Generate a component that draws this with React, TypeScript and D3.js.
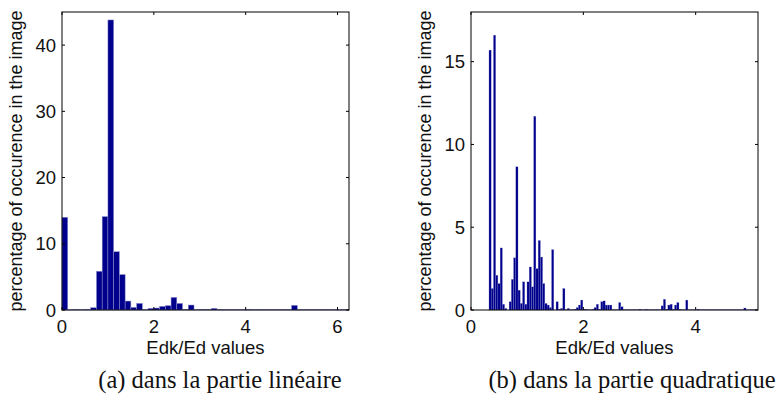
import React from "react";
import * as d3 from "d3";

// Left histogram: bin width 0.125 starting at 0
const leftBinStart = 0;
const leftBinWidth = 0.125;
const leftValues = [
  14.0, 0.05, 0.1, 0.05, 0.1, 0.35, 5.85, 14.1, 43.8, 8.8,
  5.35, 1.35, 0.4, 1.0, 0.05, 0.25, 0.3, 0.55, 0.65, 1.9,
  1.0, 0.1, 0.75, 0.05, 0.1, 0.1, 0.25, 0.1, 0.05, 0.05,
  0.05, 0.05, 0.1, 0.05, 0.05, 0.05, 0.05, 0.05, 0.05, 0.05,
  0.7, 0.05, 0.05, 0.05, 0.05, 0.05, 0.05, 0.05, 0.05, 0.05,
];
const leftXTicks = [0, 2, 4, 6];
const leftYTicks = [0, 10, 20, 30, 40];

// Right histogram: bin width 0.0398 starting at 0.32
const rightBinStart = 0.32;
const rightBinWidth = 0.0398;
const rightValues = [
  15.7, 1.3, 16.6, 2.1, 1.6, 3.75, 0.35, 0.1, 0, 0.5,
  1.85, 3.15, 8.65, 1.2, 0.4, 1.7, 0.35, 1.7, 2.6, 1.4,
  11.7, 2.5, 4.2, 3.2, 1.6, 0.4, 0.3, 0.15, 3.65, 0,
  0.5, 0.05, 0.1, 1.3, 0.02, 0.1, 0.02, 0.02, 0.05, 0.15,
  0.3, 0.6, 0.05, 0.05, 0.02, 0.02, 0.05, 0.15, 0.35, 0.05,
  0.5, 0.55, 0.3, 0.3, 0.3, 0.02, 0.02, 0.02, 0.45, 0.2,
  0.02, 0.02, 0.02, 0.02, 0.02, 0.02, 0.02, 0.05, 0.02, 0.02,
  0.05, 0.02, 0.02, 0.02, 0.02, 0.02, 0.02, 0.25, 0.65, 0.05,
  0.3, 0.35, 0.05, 0.3, 0.45, 0.05, 0.02, 0.02, 0.6, 0.02,
  0.02, 0.02, 0.02, 0.05, 0.02, 0.02, 0.02, 0.02, 0.02, 0.02,
  0.02, 0.02, 0.02, 0.02, 0.02, 0.02, 0.02, 0.02, 0.02, 0.02,
  0.02, 0.02, 0.02, 0.02, 0.12, 0.02, 0.02, 0.02, 0.02, 0.02,
];
const rightXTicks = [0, 2, 4];
const rightYTicks = [0, 5, 10, 15];

const yLabel = "percentage of occurence in the image";
const xLabel = "Edk/Ed values";
const captions = ["(a) dans la partie linéaire", "(b) dans la partie quadratique"];

const SANS = "'Liberation Sans', Arial, Helvetica, sans-serif";
const SERIF = "'Liberation Serif', 'DejaVu Serif', serif";
const FS = 18.5;

type PanelProps = {
  values: number[];
  binStart: number;
  binWidth: number;
  xDomain: [number, number];
  yDomain: [number, number];
  xTicks: number[];
  yTicks: number[];
  left: number;
  right: number;
  top: number;
  bottom: number;
  caption: string;
  captionX: number;
  edgeWidth: number;
};

function Panel(p: PanelProps) {
  const x = d3.scaleLinear().domain(p.xDomain).range([p.left, p.right]);
  const y = d3.scaleLinear().domain(p.yDomain).range([p.bottom, p.top]);
  const tl = 3;
  const cx = (p.left + p.right) / 2;
  const cy = (p.top + p.bottom) / 2;
  return (
    <g>
      {p.values.map((v, i) => {
        const x0 = x(p.binStart + i * p.binWidth);
        const x1 = x(p.binStart + (i + 1) * p.binWidth);
        const y0 = y(v);
        return (
          <rect
            key={i}
            x={x0}
            y={y0}
            width={Math.max(0, x1 - x0)}
            height={Math.max(0, p.bottom - y0)}
            fill="#00008c"
            stroke="#8f8fcf"
            strokeWidth={p.edgeWidth}
          />
        );
      })}
      <rect
        x={p.left}
        y={p.top}
        width={p.right - p.left}
        height={p.bottom - p.top}
        fill="none"
        stroke="#000"
        strokeWidth={1}
      />
      {p.xTicks.map((t) => (
        <g key={"x" + t}>
          <line x1={x(t)} x2={x(t)} y1={p.bottom} y2={p.bottom - tl} stroke="#000" />
          <line x1={x(t)} x2={x(t)} y1={p.top} y2={p.top + tl} stroke="#000" />
          <text
            x={x(t)}
            y={p.bottom + 23}
            textAnchor="middle"
            fontFamily={SANS}
            fontSize={FS}
            fill="#111"
          >
            {t}
          </text>
        </g>
      ))}
      {p.yTicks.map((t) => (
        <g key={"y" + t}>
          <line x1={p.left} x2={p.left + tl} y1={y(t)} y2={y(t)} stroke="#000" />
          <line x1={p.right} x2={p.right - tl} y1={y(t)} y2={y(t)} stroke="#000" />
          <text
            x={p.left - 6}
            y={y(t)}
            dy="0.36em"
            textAnchor="end"
            fontFamily={SANS}
            fontSize={FS}
            fill="#111"
          >
            {t}
          </text>
        </g>
      ))}
      <text
        x={cx}
        y={p.bottom + 44}
        textAnchor="middle"
        fontFamily={SANS}
        fontSize={FS}
        fill="#111"
      >
        {xLabel}
      </text>
      <text
        transform={`translate(${p.left - 40},${cy}) rotate(-90)`}
        textAnchor="middle"
        fontFamily={SANS}
        fontSize={18}
        fill="#111"
      >
        {yLabel}
      </text>
      <text
        x={p.captionX}
        y={388}
        textAnchor="middle"
        fontFamily={SERIF}
        fontSize={24.5}
        fill="#111"
      >
        {p.caption}
      </text>
    </g>
  );
}

export default function App() {
  return (
    <svg
      width={782}
      height={415}
      style={{ position: "absolute", left: 0, top: 0, background: "#fff" }}
    >
      <rect width={782} height={415} fill="#fff" />
      <Panel
        values={leftValues}
        binStart={leftBinStart}
        binWidth={leftBinWidth}
        xDomain={[0, 6.25]}
        yDomain={[0, 45]}
        xTicks={leftXTicks}
        yTicks={leftYTicks}
        left={62}
        right={349}
        top={12}
        bottom={310}
        caption={captions[0]}
        captionX={220}
        edgeWidth={0.5}
      />
      <Panel
        values={rightValues}
        binStart={rightBinStart}
        binWidth={rightBinWidth}
        xDomain={[0, 5.11]}
        yDomain={[0, 18]}
        xTicks={rightXTicks}
        yTicks={rightYTicks}
        left={471}
        right={758}
        top={12}
        bottom={310}
        caption={captions[1]}
        captionX={632}
        edgeWidth={0.25}
      />
    </svg>
  );
}
